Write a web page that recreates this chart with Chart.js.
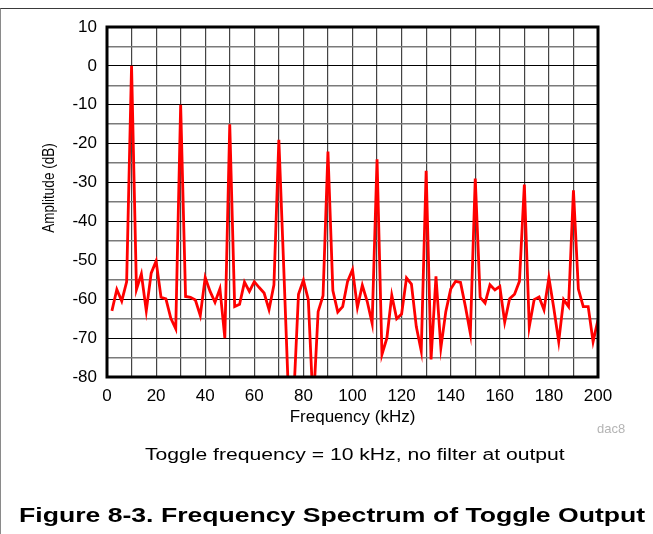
<!DOCTYPE html>
<html>
<head>
<meta charset="utf-8">
<script src="https://cdn.jsdelivr.net/npm/chart.js@4/dist/chart.umd.min.js"></script>
<style>
	html, body {
		margin: 0;
		padding: 0;
		background: #fff;
	}
	.page {
		position: relative;
		width: 653px;
		height: 534px;
		overflow: hidden;
		font-family: 'Liberation Sans', Arial, sans-serif;
	}
	.frame {
		position: absolute;
		left: 0;
		top: 8px;
		width: 653px;
		height: 526px;
		box-sizing: border-box;
		border-top: 1px solid #3a3a3a;
		border-left: 1px solid #8a8a8a;
	}
	#chart {
		position: absolute;
		left: 0;
		top: 0;
	}
	.note {
		position: absolute;
		white-space: nowrap;
		transform-origin: 0 0;
	}
	.tag {
		left: 597px;
		top: 422px;
		font-size: 13px;
		line-height: 13px;
		color: #b4b4b4;
	}
	.sub {
		left: 145px;
		top: 447px;
		font-size: 16px;
		line-height: 16px;
		color: #000;
		transform: scaleX(1.32);
	}
	.caption {
		left: 19px;
		top: 505px;
		font-size: 20px;
		line-height: 20px;
		font-weight: bold;
		color: #000;
		transform: scaleX(1.33);
	}
</style>
</head>
<body>
<div class="page">
	<div class="frame"></div>
	<canvas id="chart" width="653" height="534"></canvas>
	<div class="note tag">dac8</div>
	<div class="note sub">Toggle frequency = 10 kHz, no filter at output</div>
	<div class="note caption">Figure 8-3. Frequency Spectrum of Toggle Output</div>
</div>
<script>
/* ==========================================================================
 Data
 ========================================================================== */

// frequency bins, kHz
const frequency = [
	2, 4, 6, 8, 10, 12, 14, 16, 18, 20,
	22, 24, 26, 28, 30, 32, 34, 36, 38, 40,
	42, 44, 46, 48, 50, 52, 54, 56, 58, 60,
	62, 64, 66, 68, 70, 72, 74, 76, 78, 80,
	82, 84, 86, 88, 90, 92, 94, 96, 98, 100,
	102, 104, 106, 108, 110, 112, 114, 116, 118, 120,
	122, 124, 126, 128, 130, 132, 134, 136, 138, 140,
	142, 144, 146, 148, 150, 152, 154, 156, 158, 160,
	162, 164, 166, 168, 170, 172, 174, 176, 178, 180,
	182, 184, 186, 188, 190, 192, 194, 196, 198, 200,
];

// amplitude, dB (values under -80 run off the bottom of the plot)
const amplitude = [
	-63, -57.5, -60.5, -55.5, 0, -57.5, -53.5, -63, -53.3, -50.2,
	-59.5, -59.9, -64.9, -67.6, -10, -59.3, -59.5, -60.2, -64.2, -54.4,
	-58, -60.8, -57.3, -70, -15, -61.9, -61.3, -55.6, -58, -55.5,
	-57, -58.4, -62.7, -56.3, -19, -52, -86, -86, -58.7, -55.1,
	-60.1, -88, -63.2, -59.1, -22, -57.8, -63.3, -61.9, -55.4, -52.4,
	-62.1, -56.4, -60.6, -66.2, -24, -74.2, -70, -59, -65, -63.8,
	-54.5, -56.1, -67.1, -73.3, -27, -75.5, -54.1, -72.5, -63.2, -57.4,
	-55.4, -55.7, -61.9, -68.8, -29, -59.5, -61, -56.3, -57.6, -56.7,
	-65.9, -59.9, -58.7, -55.4, -30.5, -67.1, -60.1, -59.4, -62.7, -54.5,
	-62.3, -70.9, -60.1, -61.9, -32, -57.4, -61.9, -61.9, -70.9, -65.3,
];

const xRange = [0, 200];
const yRange = [-80, 10];

/* ==========================================================================
 Plugins
 ========================================================================== */

const fontFamily = "'Liberation Sans', Arial, sans-serif";

// heavy black box round the plot area
const plotFrame = {
	id: 'plotFrame',
	afterDraw(chart) {
		const {ctx, chartArea} = chart;
		ctx.save();
		ctx.strokeStyle = '#000';
		ctx.lineWidth = 3;
		ctx.strokeRect(chartArea.left, chartArea.top, chartArea.width, chartArea.height);
		ctx.restore();
	}
};

// y title sits a little above the middle of the axis in the original,
// and its glyphs are widened like the rest of the scanned figure
const yTitle = {
	id: 'yTitle',
	afterDraw(chart) {
		const {ctx} = chart;
		ctx.save();
		ctx.translate(49, 188);
		ctx.rotate(-Math.PI / 2);
		ctx.scale(1, 1.25);
		ctx.fillStyle = '#000';
		ctx.font = '13.5px ' + fontFamily;
		ctx.textAlign = 'center';
		ctx.textBaseline = 'middle';
		ctx.fillText('Amplitude (dB)', 0, 0);
		ctx.restore();
	}
};

/* ==========================================================================
 Config
 ========================================================================== */

const points = frequency.map((f, i) => ({x: f, y: amplitude[i]}));

const config = {
	type: 'line',
	data: {
		datasets: [
			{
				data: points,
				borderColor: '#ff0000',
				borderWidth: 2.8,
				pointRadius: 0,
				tension: 0,
				fill: false,
				clip: 0,
			}
		],
	},
	options: {
		responsive: false,
		animation: false,
		devicePixelRatio: 1,
		layout: {
			padding: {
				top: 27,
				right: 55,
				bottom: 105,
				left: 0,
			},
		},
		scales: {
			x: {
				type: 'linear',
				min: xRange[0],
				max: xRange[1],
				afterFit(scale) {
					scale.height = 52;
				},
				ticks: {
					stepSize: 10,
					autoSkip: false,
					maxRotation: 0,
					color: '#000',
					padding: 9,
					font: {
						size: 17,
						family: fontFamily,
					},
					callback: v => (v % 20 === 0 ? v : ''),
				},
				grid: {
					drawTicks: false,
					color: '#444',
					lineWidth: 1.2,
				},
				border: {
					display: false,
				},
				title: {
					display: true,
					text: 'Frequency (kHz)',
					color: '#000',
					padding: {top: 0, bottom: 1},
					font: {
						size: 17,
						family: fontFamily,
					},
				},
			},
			y: {
				min: yRange[0],
				max: yRange[1],
				afterFit(scale) {
					scale.width = 107;
				},
				ticks: {
					stepSize: 5,
					autoSkip: false,
					color: '#000',
					padding: 10,
					font: {
						size: 17,
						family: fontFamily,
					},
					callback: v => (v % 10 === 0 ? v : ''),
				},
				grid: {
					drawTicks: false,
					color: ctx => (ctx.tick && ctx.tick.value % 10 === 0 ? '#000' : '#7a7a7a'),
					lineWidth: ctx => (ctx.tick && ctx.tick.value % 10 === 0 ? 1 : 1.5),
				},
				border: {
					display: false,
				},
			},
		},
		plugins: {
			legend: {
				display: false,
			},
			tooltip: {
				enabled: false,
			},
		},
	},
	plugins: [plotFrame, yTitle],
};

/* ==========================================================================
 Render
 ========================================================================== */

let myChart;

initialChart();

function initialChart() {
	myChart = new Chart(
		document.getElementById('chart'),
		config
	);
}
</script>
</body>
</html>
